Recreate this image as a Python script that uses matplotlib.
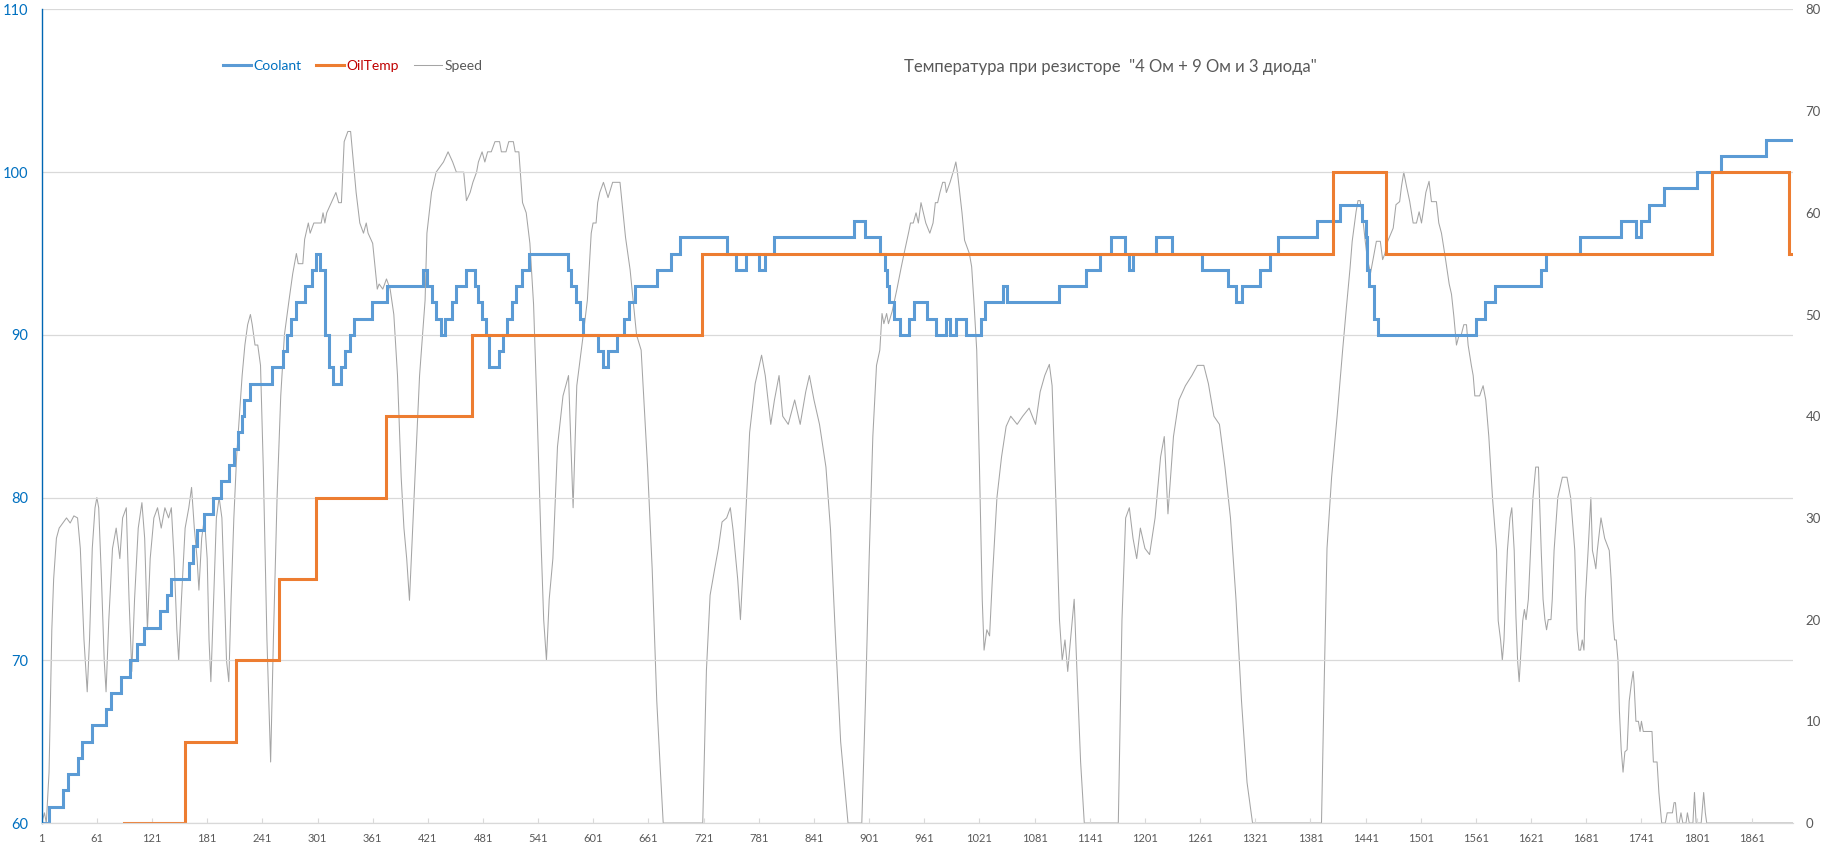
import matplotlib
matplotlib.use("Agg")
import matplotlib.pyplot as plt

plt.rcParams['font.family'] = ['Lato', 'DejaVu Sans']

# ---------------- data ----------------
x_ticks = list(range(1, 1862, 60))
left_ticks = [60, 70, 80, 90, 100, 110]
right_ticks = [0, 10, 20, 30, 40, 50, 60, 70, 80]

# Coolant: step change points (sample index, value)
coolant_x = [1, 9, 24, 30, 41, 45, 56, 71, 76, 87, 97, 105, 112, 130, 137, 142, 161, 166, 170, 178,
             187, 196, 205, 210, 215, 219, 221, 228, 251, 263, 268, 272, 278, 287, 295, 299, 304, 309,
             313, 318, 327, 331, 336, 341, 360, 377, 416, 420, 426, 430, 435, 440, 447, 452, 462, 472,
             476, 480, 484, 488, 498, 503, 507, 512, 517, 523, 531, 573, 577, 582, 586, 590, 606, 611,
             617, 627, 634, 640, 646, 670, 686, 695, 746, 756, 767, 781, 788, 797, 884, 897, 913, 918,
             920, 923, 928, 935, 944, 950, 964, 974, 985, 989, 995, 1006, 1023, 1027, 1047, 1051, 1108,
             1137, 1152, 1164, 1179, 1184, 1188, 1213, 1230, 1263, 1291, 1300, 1307, 1326, 1337, 1346,
             1388, 1413, 1437, 1441, 1443, 1445, 1450, 1455, 1561, 1571, 1582, 1632, 1637, 1674, 1719,
             1735, 1740, 1749, 1766, 1801, 1827, 1877, 1906]
coolant_t = [60, 61, 62, 63, 64, 65, 66, 67, 68, 69, 70, 71, 72, 73, 74, 75, 76, 77, 78, 79,
             80, 81, 82, 83, 84, 85, 86, 87, 88, 89, 90, 91, 92, 93, 94, 95, 94, 90,
             88, 87, 88, 89, 90, 91, 92, 93, 94, 93, 92, 91, 90, 91, 92, 93, 94, 93,
             92, 91, 90, 88, 89, 90, 91, 92, 93, 94, 95, 94, 93, 92, 91, 90, 89, 88,
             89, 90, 91, 92, 93, 94, 95, 96, 95, 94, 95, 94, 95, 96, 97, 96, 95, 94,
             93, 92, 91, 90, 91, 92, 91, 90, 91, 90, 91, 90, 91, 92, 93, 92, 93,
             94, 95, 96, 95, 94, 95, 96, 95, 94, 93, 92, 93, 94, 95, 96,
             97, 98, 97, 96, 94, 93, 91, 90, 91, 92, 93, 94, 95, 96, 97,
             96, 97, 98, 99, 100, 101, 102, 102]

# OilTemp: step change points
oil_x = [91, 157, 212, 259, 299, 376, 469, 719, 1406, 1463, 1818, 1902, 1906]
oil_t = [60, 65, 70, 75, 80, 85, 90, 95, 100, 95, 100, 95, 95]

# Speed (right axis)
speed_x = [1, 4, 6, 9, 12, 14, 17, 20, 24, 28, 32, 36, 40, 43, 47, 50.5, 53, 56, 59, 61, 63, 66, 69, 71,
           74, 78, 82, 86, 89, 93, 96, 99, 102, 106, 110, 113, 116, 119, 123, 127, 131, 135, 139, 142,
           145, 148, 150, 153, 157, 161, 164, 167, 170, 172, 175, 178, 181, 183, 185, 188, 191, 194,
           197, 200, 202, 204.5, 207, 210, 213, 216, 219, 222, 225, 228, 230, 233, 236, 239, 242, 246,
           250, 253, 257, 261, 265, 270, 274, 278, 280, 285, 287, 291, 293, 297, 305, 307, 309, 311,
           316, 321, 324, 327, 330, 334, 337, 338, 343, 347, 351, 354, 356, 361, 366, 368, 372, 376,
           380, 384, 388, 392, 395, 398, 401, 404, 408, 412, 418, 420, 425, 430, 438, 443, 448, 452,
           460, 463, 467, 470, 474, 476, 480, 483, 486, 490, 494, 499, 501, 506, 509, 514, 516, 520,
           524, 528, 532, 536, 540, 544, 547, 550, 553, 557, 562, 568, 574, 579, 583, 590, 594.5,
           598.7, 600.7, 604, 605.7, 608, 612, 617, 622, 630, 636, 641, 648, 653, 660, 665, 670, 674,
           677, 718, 720, 724, 728, 733, 737, 741, 746, 750, 753, 758, 761, 766, 771, 777, 784, 788,
           794, 798, 803, 807, 813, 820, 826, 832, 836, 841, 847, 854, 859, 864, 870, 878, 893, 897,
           901, 905, 909, 912.6, 915, 917, 920, 922, 926, 931, 936, 939, 944, 946, 949, 952, 954.5,
           957.4, 960, 962.6, 967, 970.5, 973, 975.5, 978, 981, 983.5, 985, 989, 993, 995.3, 997,
           999.5, 1002, 1004.8, 1010, 1012.5, 1015, 1018, 1021, 1024, 1026, 1029, 1032, 1035, 1040,
           1045, 1050, 1055, 1062, 1068, 1075, 1082, 1087, 1092, 1097, 1100, 1104, 1108, 1111, 1114,
           1117, 1120, 1124, 1127, 1131, 1135, 1172, 1176, 1180, 1184, 1188, 1192, 1196, 1201,
           1206, 1212, 1218, 1222, 1226, 1232, 1238, 1245, 1252, 1258, 1265, 1270, 1276, 1282, 1288,
           1294, 1300, 1306, 1312, 1318, 1393, 1396, 1399, 1404, 1410, 1416, 1420, 1424, 1426.4,
           1430.6, 1432.7, 1435, 1438, 1440.6, 1443, 1446.4, 1449, 1452.7, 1457, 1459.5, 1462, 1465,
           1471, 1474, 1478, 1480, 1482.5, 1485.5, 1489, 1492.7, 1496.3, 1499.2, 1501.8, 1503.6,
           1506.5, 1510, 1512.6, 1518, 1520.6, 1523.5, 1527, 1531.9, 1534.4, 1537, 1539.8, 1542.7,
           1545, 1547.8, 1550.7, 1552.5, 1556, 1558, 1559.8, 1565, 1568.8, 1571.7, 1575, 1579,
           1583.4, 1585.2, 1587.8, 1589.7, 1591.5, 1593.4, 1595.2, 1598, 1600, 1602.6, 1604.5,
           1606.3, 1608, 1610, 1611.9, 1613.7, 1615.5, 1616.7, 1618, 1620.4, 1623, 1626, 1629, 1632,
           1634, 1636, 1637.8, 1639.6, 1642.6, 1644, 1646, 1650, 1655, 1660, 1664, 1668.5, 1671,
           1673, 1674.8, 1676.6, 1678.5, 1680, 1683, 1686, 1687.7, 1689.5, 1691.4, 1693, 1697, 1701,
           1706, 1708, 1710, 1711.8, 1713.6, 1715.5, 1717, 1719, 1721, 1723, 1725.4, 1727.7, 1730,
           1732, 1733, 1735, 1737.7, 1739.5, 1741, 1743, 1752.5, 1754, 1758, 1760, 1763, 1767, 1769,
           1774.7, 1776.5, 1778, 1780, 1782, 1784, 1786, 1789.5, 1791, 1793, 1797, 1798.7, 1800.5,
           1806, 1808.7, 1810.5, 1812, 1906]
speed_v = [0, 1, 0, 5, 19, 24, 28, 29, 29.5, 30, 29.5, 30.2, 30, 27, 18, 12.9, 18, 27, 31, 32, 31, 24, 16, 12.9,
           20, 27, 29, 26, 30, 31, 22, 14.9, 22, 29, 31.5, 28, 19, 26, 30, 31, 29, 31, 30, 31,
           26, 19, 16, 22, 29, 31, 33, 29, 26, 22.9, 28, 30, 26, 18, 13.9, 22, 30, 32,
           30, 22, 16, 13.9, 22, 30, 36, 40, 44, 47, 49, 50, 49, 47, 47, 45, 35, 18,
           6, 18, 32, 42, 48, 51.4, 54, 56, 55, 55, 57.4, 59, 58, 59, 59, 60, 59, 60,
           61, 62, 61, 61, 67, 68, 68, 67, 62, 59, 58, 59, 58, 57, 52.5, 53, 52.5, 53.5,
           52.5, 50, 44, 34, 29, 26, 21.9, 28, 36, 44, 51.4, 58, 62, 64, 65, 66, 65, 64,
           64, 61.2, 62, 63, 64, 65, 66, 65, 66, 66, 67, 67, 66, 66, 67, 67, 66, 66,
           61, 60, 57, 51, 40, 28, 20, 16, 22, 26, 37, 42, 44, 31, 43, 48, 51.4,
           58, 59, 59, 61, 62, 63, 61.5, 63, 63, 57.6, 54.4, 48, 46.5, 35, 25, 12, 5,
           0, 0, 0, 15, 22.4, 25, 27, 29.6, 30, 31, 28.8, 24, 20, 28.8, 38.4, 43.2, 46, 44,
           39.2, 41.6, 44, 40, 39.2, 41.6, 39.2, 42.4, 44, 41.6, 39.2, 35, 28.8, 19, 8, 0, 0, 12,
           26, 38, 45, 46.5, 50.1, 49.1, 50.1, 49.1, 50.3, 52.4, 54.7, 56, 58.1, 59, 59, 60, 59,
           61, 60, 59, 58, 59, 61, 61, 62, 63, 63, 62, 63, 64.2, 65, 64,
           62, 60, 57.3, 56, 54.7, 51.2, 46.5, 35, 22, 17, 19, 18.4, 24, 32,
           36, 39, 40, 39.2, 40, 40.8, 39.2, 42.4, 44, 45.1, 43, 32, 20, 16, 18,
           14.9, 18, 22, 15, 6, 0, 0, 20, 30, 31, 28, 26, 29, 27,
           26.4, 30, 36, 38, 30.4, 38, 41.6, 43, 44, 45, 45, 43.2, 40, 39.2, 35,
           30, 22, 12, 4, 0, 0, 14, 27, 34, 40, 46.5, 50.6, 54.5, 57.2,
           60.1, 61.2, 61.2, 59.4, 57.2, 55.4, 54.1, 55.4, 57.2, 57.2, 55.4, 56, 57.2,
           58.5, 60.8, 61.1, 62.6, 64, 62.6, 61.1, 59, 59, 60.1, 59, 60.1,
           62, 63.1, 61.1, 61.1, 59, 58, 56, 53, 52, 49.8, 47, 48,
           48, 49, 49, 47, 45, 44, 42, 42, 43, 41.6, 38, 32,
           26.8, 19.9, 18, 16, 18, 22.9, 26.8, 30, 31, 26.8, 20.3,
           16, 13.9, 17, 19.9, 21, 20, 21, 22, 26.8, 32, 35, 35, 26.8,
           22, 20, 19, 20, 20, 22, 26.8, 32, 34, 34, 32, 26.8, 19,
           17, 17, 18, 17, 22, 26.8, 32, 26.8, 26, 25, 26.8, 30, 28,
           26.8, 24, 20, 18, 18, 16, 11.1, 7.2, 5, 7, 7.2, 12, 13.7,
           14.9, 13.7, 10, 10, 9, 10, 9, 9, 6, 6, 3, 0, 0, 1,
           1, 2, 2, 0, 0, 1, 0, 0, 1, 0, 0, 3, 0,
           0, 3, 1, 0, 0]

# ---------------- figure ----------------
fig = plt.figure(figsize=(18.33, 8.51), dpi=100)
ax = fig.add_axes([0.02275, 0.0329, 0.9555, 0.956])
ax2 = ax.twinx()
ax.set_zorder(ax2.get_zorder() + 1)
ax.patch.set_visible(False)

grid_c = '#D9D9D9'
ax.set_xlim(1, 1906)
ax.set_ylim(60, 110)
ax2.set_ylim(0, 80)

for v in left_ticks:
    ax.axhline(v, color=grid_c, lw=0.9, zorder=0)

l_speed, = ax2.plot(speed_x, speed_v, color='#A5A5A5', lw=0.75, label='Speed')
l_cool, = ax.step(coolant_x, coolant_t, where='post', color='#5B9BD5', lw=2.2, label='Coolant',
                  solid_joinstyle='miter')
l_oil, = ax.step(oil_x, oil_t, where='post', color='#ED7D31', lw=2.2, label='OilTemp',
                 solid_joinstyle='miter')

ax.set_xticks(x_ticks)
ax.set_xticklabels([str(t) for t in x_ticks])
ax.set_yticks(left_ticks)
ax2.set_yticks(right_ticks)

ax.tick_params(axis='x', direction='in', length=3.5, width=0.8, color=grid_c,
               labelsize=8, labelcolor='#595959', pad=7)
ax.tick_params(axis='y', length=0, labelsize=10.5, labelcolor='#0070C0', pad=10)
ax2.tick_params(axis='y', length=0, labelsize=9.5, labelcolor='#595959', pad=9)

for s in ['top', 'right']:
    ax.spines[s].set_visible(False)
ax.spines['bottom'].set_color(grid_c)
ax.spines['bottom'].set_linewidth(0.9)
ax.spines['left'].set_color('#0066B3')
ax.spines['left'].set_linewidth(1.0)
for s in ax2.spines.values():
    s.set_visible(False)

leg = fig.legend([l_cool, l_oil, l_speed], ['Coolant', 'OilTemp', 'Speed'],
                 loc='center left', bbox_to_anchor=(223 / 1833, 1 - 66 / 851), ncol=3,
                 frameon=False, fontsize=10, handlelength=2.0, handletextpad=0.2,
                 columnspacing=1.05, borderpad=0, borderaxespad=0)
for txt, c in zip(leg.get_texts(), ['#0070C0', '#C00000', '#595959']):
    txt.set_color(c)

fig.text(1110 / 1833, 1 - 67 / 851, 'Температура при резисторе  "4 Ом + 9 Ом и 3 диода"',
         ha='center', va='center', fontsize=12, color='#595959')

fig.savefig('out.png', dpi=100)
